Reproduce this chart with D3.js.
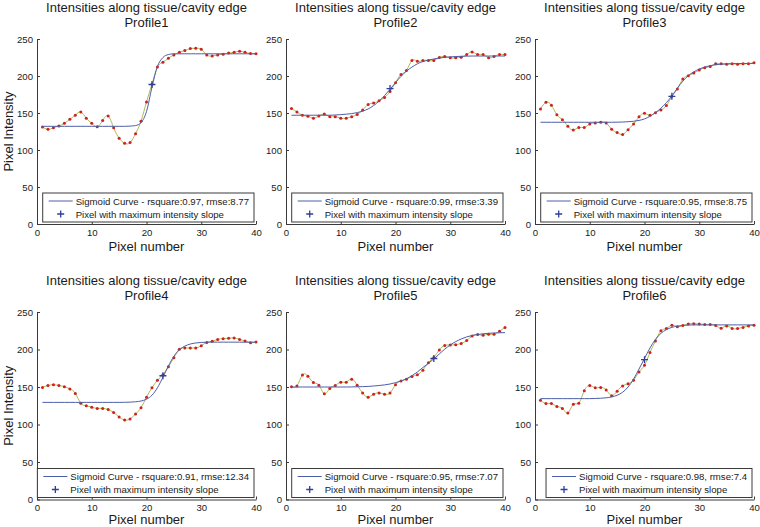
<!DOCTYPE html>
<html>
<head>
<meta charset="utf-8">
<script src="https://cdn.jsdelivr.net/npm/d3@7"></script>
<style>
  html, body { margin: 0; padding: 0; background: #fff; }
  svg { display: block; }
  text { font-family: "Liberation Sans", Arial, Helvetica, sans-serif; }
</style>
</head>
<body>
<svg id="chart" width="760" height="527"></svg>
<script>
// ---------- DATA ----------
const pixels = [1,2,3,4,5,6,7,8,9,10,11,12,13,14,15,16,17,18,19,20,21,22,23,24,25,26,27,28,29,30,31,32,33,34,35,36,37,38,39,40];
const xTicks = [0, 10, 20, 30, 40];
const yTicks = [0, 50, 100, 150, 200, 250];
const profileNames = ["Profile1", "Profile2", "Profile3", "Profile4", "Profile5", "Profile6"];
const titleText = "Intensities along tissue/cavity edge";
const rsquare = ["0.97", "0.99", "0.95", "0.91", "0.95", "0.98"];
const rmse = ["8.77", "3.39", "8.75", "12.34", "7.07", "7.4"];

const profile1 = [131,128,130,132.5,136,141.5,147,151.5,143,136,131.5,140,146,130,116,109,110,122,139,165,189,212,218.5,224,228.5,232,234.5,237,237.5,236,228.5,227,228.5,229.5,231,232,233.5,232,230.5,230];
const profile2 = [156,151.5,147,145.5,143,146,148.5,145,145,143,143,145,148,154,161.5,163.5,166.5,171,179,191,202,207.5,221,220,221,221,221,225,226.5,224.5,224.5,225.5,229,232.5,229,229,224.5,226.5,229,229];
const profile3 = [155.5,164.5,160.5,147.5,141,132,127,130.5,130.5,135,136.5,137.5,136.5,128,123.5,121,127.5,135,145,149.5,147,150.5,154,160,172.5,182.5,196,200.5,204,208,211,213,216.5,216.5,216,216.5,216,216.5,216.5,218];
const profile4 = [149.5,152,153,152,150.5,147.5,141.5,128.5,125,123,121.5,121.5,120,116,110,106,107.5,114,122.5,136.5,149,159,166.5,177,189,200.5,202,202,202,205,209.5,211,213.5,214.5,215,215.5,213.5,211.5,209,210];
const profile5 = [150.5,151.5,166,164.5,156,152.5,141,148,152,156.5,156.5,160.5,152.5,142,136.5,140.5,142,140.5,142,153,158,160.5,164,166.5,172.5,182.5,189.5,199.5,205.5,206,206.5,208,212,218,220,219,220.5,220.5,224.5,229.5];
const profile6 = [132.5,128,128,124,121.5,115.5,127,128.5,145,152,149,149.5,146,138.5,144.5,151.5,154.5,159,170,179,196,211.5,225,228,232.5,230.5,232,234,234.5,234,233.5,233.5,232,228.5,231.5,228,228,229.5,231.5,232.5];

const sigmoid1 = [132,132,132,132,132,132,132,132,132,132,132,132,132,132,132,132,132.3,133,137,152,185,213,225,229,230,230,230,230,230,230,230,230,230,230,230,230,230,230,230,230];
const sigmoid2 = [147,147,147,147,147,147,147,147,147.3,147.8,148.4,149.2,150.5,152.5,155.5,160,166,173.5,182,191,199.5,206.5,212,216.5,219.5,221.5,223,224.3,225.2,225.8,226.3,226.6,226.8,227,227,227,227,227,227,227];
const sigmoid3 = [137.5,137.5,137.5,137.5,137.5,137.5,137.5,137.5,137.5,137.5,137.5,137.5,137.5,137.5,137.6,137.8,138.2,138.8,140,142,145.5,150.5,156.5,164,173,183.5,193,200.5,205.5,209.5,212,214,215.2,216,216.4,216.7,216.8,216.9,217,217];
const sigmoid4 = [129.5,129.5,129.5,129.5,129.5,129.5,129.5,129.5,129.5,129.5,129.5,129.5,129.5,129.5,129.5,129.6,129.8,130.3,131.3,133.7,139,149,163,178,191,199.5,204.5,207.3,208.7,209.4,209.7,209.8,209.8,209.8,209.8,209.8,209.8,209.8,209.8,209.8];
const sigmoid5 = [150,150,150,150,150,150,150,150,150,150,150,150.1,150.3,150.5,150.8,151.3,152,152.8,154,155.8,158,161,165,170,176,181.5,187.5,194,200.5,206,210.5,214,216.8,218.7,220,221,221.6,222,222.3,222.5];
const sigmoid6 = [134.5,134.5,134.5,134.5,134.5,134.5,134.5,134.5,134.5,134.5,134.7,135,135.6,136.8,139,143,150,160.5,174,188,202,213.5,221.5,226.5,229.5,231.2,232.1,232.6,232.8,232.8,232.8,232.8,232.8,232.8,232.8,232.8,232.8,232.8,232.8,232.8];

// pixel with maximum intensity slope: [pixel, intensity]
const maxSlope1 = [21, 188.5];
const maxSlope2 = [19, 183];
const maxSlope3 = [25, 172.5];
const maxSlope4 = [23, 165];
const maxSlope5 = [27, 188];
const maxSlope6 = [20, 186.5];

const profiles = [profile1, profile2, profile3, profile4, profile5, profile6];
const sigmoids = [sigmoid1, sigmoid2, sigmoid3, sigmoid4, sigmoid5, sigmoid6];
const maxSlopes = [maxSlope1, maxSlope2, maxSlope3, maxSlope4, maxSlope5, maxSlope6];

// ---------- LAYOUT ----------
const colLeft = [37, 286, 535];
const plotW = 219;
const rowBottom = [224, 499.5];
const rowTop = [39, 312];
const xLabelOffset = [26.5, 24.5];

const axisColor = "#3a3a3a";
const textColor = "#1a1a1a";
const dataLineColor = "#adbc4e";
const dotColor = "#d01f1f";
const sigColor = "#4d5ea8";
const plusColor = "#2f3f9a";

const svg = d3.select("#chart");
svg.append("rect").attr("width", 760).attr("height", 527).attr("fill", "#fff");

profiles.forEach((vals, i) => {
  const c = i % 3, r = Math.floor(i / 3);
  const left = colLeft[c];
  const x = d3.scaleLinear().domain([0, 40]).range([left, left + plotW]);
  const y = d3.scaleLinear().domain([0, 250]).range([rowBottom[r], rowTop[r]]);
  const g = svg.append("g");

  // titles
  const cx = left + plotW / 2;
  g.append("text").attr("x", cx).attr("y", rowTop[r] - 27)
    .attr("text-anchor", "middle").attr("font-size", 13).attr("fill", textColor).text(titleText);
  g.append("text").attr("x", cx).attr("y", rowTop[r] - 12)
    .attr("text-anchor", "middle").attr("font-size", 13).attr("fill", textColor).text(profileNames[i]);

  // axes
  const ya = g.append("g").attr("transform", `translate(${left},0)`)
    .call(d3.axisLeft(y).tickValues(yTicks).tickSizeInner(-3).tickSizeOuter(0).tickPadding(4));
  const xa = g.append("g").attr("transform", `translate(0,${rowBottom[r]})`)
    .call(d3.axisBottom(x).tickValues(xTicks).tickSizeInner(-3).tickSizeOuter(0).tickPadding(5));
  [ya, xa].forEach(a => {
    a.select(".domain").attr("stroke", axisColor);
    a.selectAll(".tick line").attr("stroke", axisColor);
    a.selectAll(".tick text").attr("fill", textColor).attr("font-size", 9.6)
      .attr("font-family", '"Liberation Sans", Arial, sans-serif');
  });

  // axis labels
  g.append("text").attr("x", cx).attr("y", rowBottom[r] + xLabelOffset[r])
    .attr("text-anchor", "middle").attr("font-size", 13).attr("fill", textColor).text("Pixel number");
  if (c === 0) {
    const yc = (rowTop[r] + rowBottom[r]) / 2;
    g.append("text").attr("transform", `translate(13,${yc}) rotate(-90)`)
      .attr("text-anchor", "middle").attr("font-size", 13).attr("fill", textColor).text("Pixel Intensity");
  }

  // data spline
  const pts = pixels.map((p, k) => [p, vals[k]]);
  g.append("path").datum(pts)
    .attr("fill", "none").attr("stroke", dataLineColor).attr("stroke-width", 1)
    .attr("d", d3.line().x(d => x(d[0])).y(d => y(d[1])).curve(d3.curveNatural));

  // red points
  g.selectAll(".dot").data(pts).enter().append("circle")
    .attr("cx", d => x(d[0])).attr("cy", d => y(d[1])).attr("r", 1.5)
    .attr("fill", dotColor);

  // sigmoid fit
  const sp = pixels.map((p, k) => [p, sigmoids[i][k]]);
  g.append("path").datum(sp)
    .attr("fill", "none").attr("stroke", sigColor).attr("stroke-width", 1)
    .attr("d", d3.line().x(d => x(d[0])).y(d => y(d[1])).curve(d3.curveMonotoneX));

  // max slope marker
  const ms = maxSlopes[i];
  const mx = x(ms[0]), my = y(ms[1]), a = 3.5;
  g.append("path").attr("d", `M${mx - a},${my}H${mx + a}M${mx},${my - a}V${my + a}`)
    .attr("stroke", plusColor).attr("stroke-width", 1.3);

  // legend
  const lg = g.append("g");
  const boxRight = x(40) - 2;
  const boxTop = rowBottom[r] - 31;
  const label = `Sigmoid Curve - rsquare:${rsquare[i]}, rmse:${rmse[i]}`;
  const box = lg.append("rect").attr("y", boxTop).attr("height", 29)
    .attr("fill", "#fff").attr("stroke", axisColor).attr("stroke-width", 1);
  const t1 = lg.append("text").attr("y", boxTop + 11.5).attr("font-size", 9.6)
    .attr("fill", textColor).text(label);
  const t2 = lg.append("text").attr("y", boxTop + 24.5).attr("font-size", 9.6)
    .attr("fill", textColor).text("Pixel with maximum intensity slope");
  const tw = Math.max(t1.node().getComputedTextLength(), t2.node().getComputedTextLength());
  const boxW = 33 + tw + 5;
  const boxLeft = boxRight - boxW;
  box.attr("x", boxLeft).attr("width", boxW);
  t1.attr("x", boxLeft + 33);
  t2.attr("x", boxLeft + 33);
  lg.append("line").attr("x1", boxLeft + 6).attr("x2", boxLeft + 30)
    .attr("y1", boxTop + 8).attr("y2", boxTop + 8)
    .attr("stroke", sigColor).attr("stroke-width", 1);
  const lx = boxLeft + 18, ly = boxTop + 21;
  lg.append("path").attr("d", `M${lx - a},${ly}H${lx + a}M${lx},${ly - a}V${ly + a}`)
    .attr("stroke", plusColor).attr("stroke-width", 1.3);
});
</script>
</body>
</html>
